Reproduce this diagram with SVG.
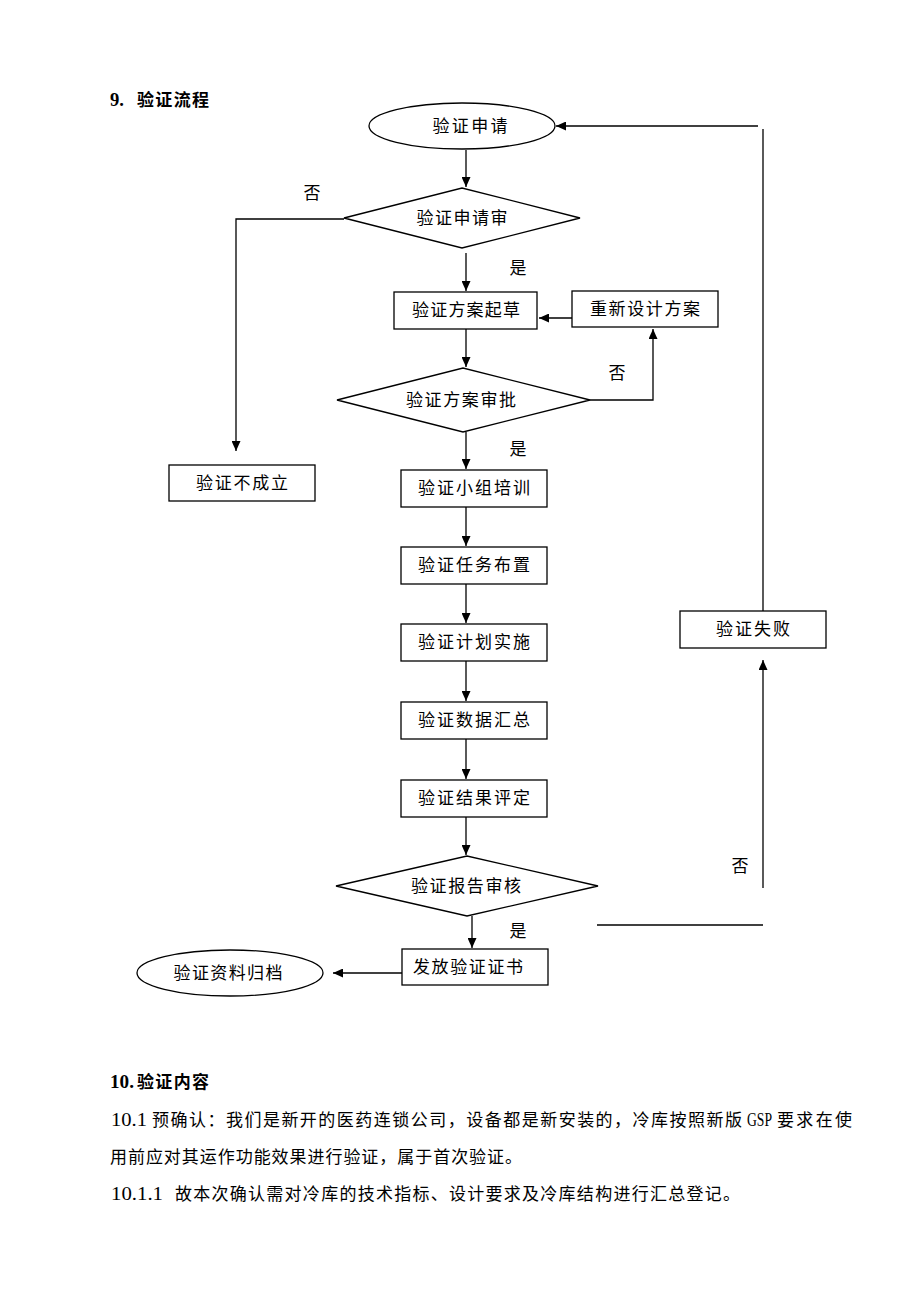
<svg xmlns="http://www.w3.org/2000/svg" width="920" height="1302" viewBox="0 0 920 1302">
<style>
.t{font-family:"Liberation Serif","Noto Sans CJK SC",serif;font-size:17px;fill:#000;dominant-baseline:central}
.d{font-family:"Liberation Serif",serif;font-size:18px}
.c{text-anchor:middle}
.b{font-weight:bold}
.s{fill:#fff;stroke:#000;stroke-width:1.3}
.l{fill:none;stroke:#000;stroke-width:1.3}
.a{marker-end:url(#ah)}
</style>
<defs>
<marker id="ah" markerUnits="userSpaceOnUse" markerWidth="10" markerHeight="9" refX="10" refY="4.5" orient="auto">
<path d="M0,0 L10,4.5 L0,9 z" fill="#000"/>
</marker>
</defs>
<rect width="920" height="1302" fill="#fff"/>
<g id="title9">
<text class="t d b" x="110" y="100" textLength="14" lengthAdjust="spacingAndGlyphs">9.</text>
<text class="t b" x="137" y="100" textLength="72" lengthAdjust="spacing">验证流程</text>
</g>

<g id="connectors">
<line class="l a" x1="466" y1="150" x2="466" y2="187"/>
<polyline class="l a" points="344,219 236,219 236,451"/>
<line class="l a" x1="466" y1="253" x2="466" y2="291"/>
<line class="l a" x1="572" y1="318" x2="539" y2="318"/>
<line class="l a" x1="466" y1="329" x2="466" y2="367"/>
<polyline class="l a" points="590,400 653,400 653,329"/>
<line class="l a" x1="466" y1="432" x2="466" y2="469"/>
<line class="l a" x1="466" y1="507" x2="466" y2="546"/>
<line class="l a" x1="466" y1="584" x2="466" y2="623"/>
<line class="l a" x1="466" y1="661" x2="466" y2="701"/>
<line class="l a" x1="466" y1="739" x2="466" y2="779"/>
<line class="l a" x1="466" y1="817" x2="466" y2="855"/>
<line class="l a" x1="472" y1="916" x2="472" y2="948"/>
<line class="l a" x1="402" y1="973" x2="333" y2="973"/>
<line class="l" x1="597" y1="925" x2="763" y2="925"/>
<line class="l a" x1="763" y1="888" x2="763" y2="660"/>
<line class="l" x1="763" y1="611" x2="763" y2="129"/>
<line class="l a" x1="758" y1="126" x2="556" y2="126"/>
<text class="t c" x="312" y="193">否</text>
<text class="t c" x="518" y="268">是</text>
<text class="t c" x="617" y="373">否</text>
<text class="t c" x="518" y="449">是</text>
<text class="t c" x="740" y="866">否</text>
<text class="t c" x="518" y="931">是</text>
</g>

<g id="n-apply"><ellipse class="s" cx="462" cy="126" rx="93" ry="23"/><text class="t c" x="470" y="126" textLength="75">验证申请</text></g>
<g id="n-review"><polygon class="s" points="344,218 462,188 580,218 462,248"/><text class="t c" x="462" y="218" textLength="91">验证申请审</text></g>
<g id="n-notvalid"><rect class="s" x="169" y="465" width="146" height="36"/><text class="t c" x="242" y="483" textLength="92">验证不成立</text></g>
<g id="n-draft"><rect class="s" x="394" y="292" width="143" height="37"/><text class="t c" x="466" y="310.5" textLength="108">验证方案起草</text></g>
<g id="n-redesign"><rect class="s" x="572" y="291" width="146" height="36"/><text class="t c" x="645" y="309" textLength="110">重新设计方案</text></g>
<g id="n-approve"><polygon class="s" points="337,400 463,368 590,400 463,432"/><text class="t c" x="461" y="400" textLength="110">验证方案审批</text></g>
<g id="n-train"><rect class="s" x="401" y="470" width="146" height="37"/><text class="t c" x="474" y="488.5" textLength="112">验证小组培训</text></g>
<g id="n-task"><rect class="s" x="401" y="547" width="146" height="37"/><text class="t c" x="474" y="565.5" textLength="112">验证任务布置</text></g>
<g id="n-plan"><rect class="s" x="401" y="624" width="146" height="37"/><text class="t c" x="474" y="642.5" textLength="112">验证计划实施</text></g>
<g id="n-data"><rect class="s" x="401" y="702" width="146" height="37"/><text class="t c" x="474" y="720.5" textLength="112">验证数据汇总</text></g>
<g id="n-result"><rect class="s" x="401" y="780" width="146" height="37"/><text class="t c" x="474" y="798.5" textLength="112">验证结果评定</text></g>
<g id="n-report"><polygon class="s" points="336,886 467,856 598,886 467,916"/><text class="t c" x="466" y="886" textLength="110">验证报告审核</text></g>
<g id="n-cert"><rect class="s" x="402" y="949" width="146" height="36"/><text class="t c" x="468" y="967" textLength="110">发放验证证书</text></g>
<g id="n-archive"><ellipse class="s" cx="230" cy="973" rx="93" ry="23"/><text class="t c" x="228" y="973" textLength="109">验证资料归档</text></g>
<g id="n-fail"><rect class="s" x="680" y="611" width="146" height="37"/><text class="t c" x="753" y="629.5" textLength="74">验证失败</text></g>

<g id="section10">
<text class="t d b" x="110" y="1082" textLength="24" lengthAdjust="spacingAndGlyphs">10.</text>
<text class="t b" x="137" y="1082" textLength="72" lengthAdjust="spacing">验证内容</text>
<text class="t d" x="111" y="1120" textLength="36" lengthAdjust="spacingAndGlyphs">10.1</text>
<text class="t" x="152" y="1120" textLength="590" lengthAdjust="spacing">预确认：我们是新开的医药连锁公司，设备都是新安装的，冷库按照新版</text>
<text class="t d" x="747" y="1120" textLength="25" lengthAdjust="spacingAndGlyphs">GSP</text>
<text class="t" x="777" y="1120" textLength="75" lengthAdjust="spacing">要求在使</text>
<text class="t" x="110" y="1157" textLength="412" lengthAdjust="spacing">用前应对其运作功能效果进行验证，属于首次验证。</text>
<text class="t d" x="111" y="1194" textLength="52" lengthAdjust="spacingAndGlyphs">10.1.1</text>
<text class="t" x="175" y="1194" textLength="565" lengthAdjust="spacing">故本次确认需对冷库的技术指标、设计要求及冷库结构进行汇总登记。</text>
</g>
</svg>
